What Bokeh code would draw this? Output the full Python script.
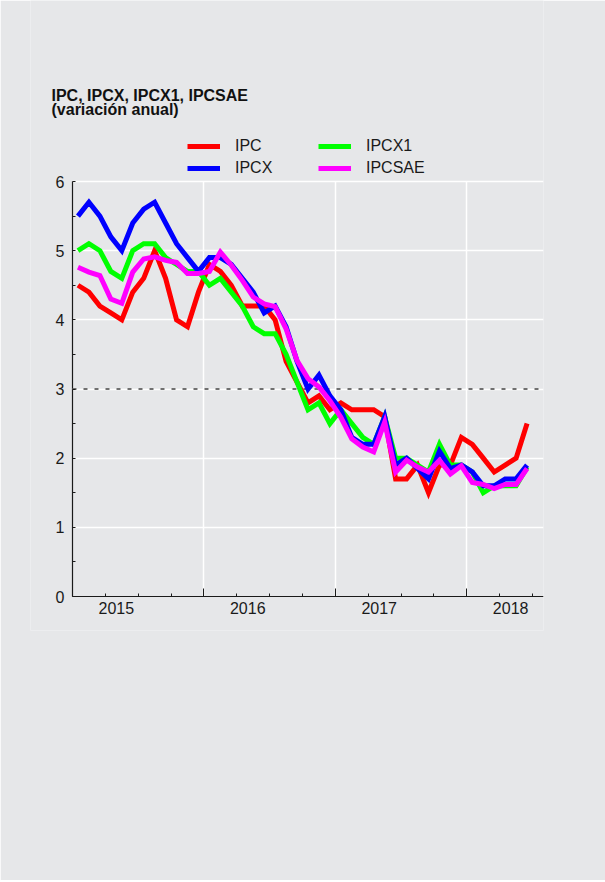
from bokeh.plotting import figure
from bokeh.models import (Range1d, FixedTicker, LinearAxis, Label, Legend, LegendItem)
from bokeh.embed import file_html
from bokeh.resources import INLINE

# ---------------- data (monthly, Jan 2015 .. Jun 2018) ----------------
months = list(range(42))
ipc = [4.5, 4.4, 4.2, 4.1, 4.0, 4.4, 4.6, 5.0, 4.6, 4.0, 3.9, 4.4,
       4.8, 4.7, 4.5, 4.2, 4.2, 4.2, 4.0, 3.4, 3.1, 2.8, 2.9, 2.7,
       2.8, 2.7, 2.7, 2.7, 2.6, 1.7, 1.7, 1.9, 1.5, 1.9, 1.9, 2.3,
       2.2, 2.0, 1.8, 1.9, 2.0, 2.5]
ipcx = [5.5, 5.7, 5.5, 5.2, 5.0, 5.4, 5.6, 5.7, 5.4, 5.1, 4.9, 4.7,
        4.9, 4.9, 4.8, 4.6, 4.4, 4.1, 4.2, 3.9, 3.4, 3.0, 3.2, 2.9,
        2.7, 2.3, 2.2, 2.2, 2.6, 1.9, 2.0, 1.85, 1.7, 2.1, 1.85, 1.9,
        1.8, 1.6, 1.6, 1.7, 1.7, 1.9]
ipcx1 = [5.0, 5.1, 5.0, 4.7, 4.6, 5.0, 5.1, 5.1, 4.9, 4.8, 4.7, 4.7,
         4.5, 4.6, 4.4, 4.2, 3.9, 3.8, 3.8, 3.5, 3.1, 2.7, 2.8, 2.5,
         2.7, 2.5, 2.3, 2.2, 2.6, 2.0, 2.0, 1.9, 1.8, 2.2, 1.9, 1.9,
         1.8, 1.5, 1.6, 1.6, 1.6, 1.87]
ipcsae = [4.76, 4.69, 4.64, 4.30, 4.24, 4.69, 4.88, 4.91, 4.86, 4.83, 4.67, 4.67,
          4.7, 4.98, 4.79, 4.57, 4.33, 4.23, 4.19, 3.87, 3.41, 3.15, 3.03, 2.83,
          2.59, 2.28, 2.16, 2.09, 2.52, 1.80, 1.97, 1.87, 1.80, 1.97, 1.77, 1.89,
          1.65, 1.62, 1.56, 1.62, 1.62, 1.85]
years = ["2015", "2016", "2017", "2018"]
series_names = ["IPC", "IPCX", "IPCX1", "IPCSAE"]
title_lines = ["IPC, IPCX, IPCX1, IPCSAE", "(variación anual)"]
y_ticks = [0, 1, 2, 3, 4, 5, 6]
target_line = 3

# ---------------- layout constants ----------------
FONT = "Liberation Sans"
BG = "#e6e7e9"
INK = "#1a1a1a"
colors = ["#ff0000", "#0000ff", "#00ff00", "#ff00ff"]

W, H = 605, 880
LEFT, RIGHT, BOTTOM = 30, 62, 250          # frame spans title/legend/labels too
AXIS_X = 72                                # pixel column of the y axis
AXIS_Y = 596                               # pixel row of the x axis
X_END = 43                                 # months shown (Jan 2015 .. Jul 2018)
Y_MIN, Y_MAX = 0, 6
PLOT_H = 415                               # pixel height of the 0..6 band

frame_h = H - BOTTOM
px_per_month = (W - RIGHT - AXIS_X) / X_END
px_per_unit = PLOT_H / Y_MAX
x_start = -(AXIS_X - LEFT) / px_per_month
y_start = -(frame_h - AXIS_Y) / px_per_unit
y_end = AXIS_Y / px_per_unit

x = [m + 0.5 for m in months]                       # mid-month positions
year_ticks = [12 * k for k in range(len(years))]
quarter_ticks = [3 * q for q in range(15) if q % 4 != 0]
label_ticks = [12 * k + 4 for k in range(len(years))]
y_minor = [t + 0.5 for t in y_ticks[:-1]]

p = figure(width=W, height=H, x_range=Range1d(x_start, X_END), y_range=Range1d(y_start, y_end),
           output_backend="svg", toolbar_location=None,
           min_border_left=LEFT, min_border_right=RIGHT, min_border_top=0,
           min_border_bottom=BOTTOM)
p.background_fill_color = BG
p.border_fill_color = BG
p.outline_line_color = None

# grids, limited to the data band
p.xgrid.ticker = FixedTicker(ticks=year_ticks[1:])
p.xgrid.cross_bounds = (Y_MIN, Y_MAX)
p.xgrid.grid_line_color = "white"
p.xgrid.grid_line_width = 1.5
p.ygrid.ticker = FixedTicker(ticks=y_ticks[1:])
p.ygrid.cross_bounds = (0, X_END)
p.ygrid.grid_line_color = "white"
p.ygrid.grid_line_width = 1.5

# axis lines
p.segment(x0=[0, 0], y0=[Y_MIN, Y_MIN], x1=[0, X_END], y1=[Y_MAX, Y_MIN],
          line_color=INK, line_width=1.2)

# x axis at y = 0: long year ticks, short quarter ticks (empty labels)
xa = p.xaxis[0]
xa.fixed_location = 0
xa.bounds = (0, X_END)
xa.ticker = FixedTicker(ticks=year_ticks, minor_ticks=quarter_ticks)
xa.major_label_overrides = {t: "" for t in year_ticks}
xa.major_tick_in = 8
xa.major_tick_out = 0
xa.minor_tick_in = 3
xa.minor_tick_out = 0
xa.major_label_standoff = 0
xa.major_label_text_font_size = "1px"
xa.axis_line_color = None
xa.major_tick_line_color = INK
xa.minor_tick_line_color = INK

# x axis at y = 0: year labels only
xb = LinearAxis(ticker=FixedTicker(ticks=label_ticks, minor_ticks=[]),
                major_label_overrides={t: y for t, y in zip(label_ticks, years)})
xb.fixed_location = 0
xb.axis_line_color = None
xb.major_tick_line_color = None
xb.minor_tick_line_color = None
xb.major_tick_in = 0
xb.major_tick_out = 0
xb.major_label_standoff = 5
xb.major_label_text_font = FONT
xb.major_label_text_font_size = "16px"
xb.major_label_text_color = INK
p.add_layout(xb, "below")

# y axis at x = 0, only over 0..6
ya = p.yaxis[0]
ya.fixed_location = 0
ya.bounds = (Y_MIN, Y_MAX)
ya.ticker = FixedTicker(ticks=y_ticks, minor_ticks=y_minor)
ya.major_tick_in = 3
ya.major_tick_out = 0
ya.minor_tick_in = 3
ya.minor_tick_out = 0
ya.major_label_standoff = 8
ya.major_label_text_font = FONT
ya.major_label_text_font_size = "16px"
ya.major_label_text_color = INK
ya.axis_line_color = None
ya.major_tick_line_color = INK
ya.minor_tick_line_color = INK

# target dashed line across the data band
p.segment(x0=[0], y0=[target_line], x1=[X_END], y1=[target_line],
          line_color="#707070", line_width=2, line_dash="4 7")

# series (drawing order: IPC, IPCX1, IPCX, IPCSAE)
r_ipc = p.line(x, ipc, line_color=colors[0], line_width=5, line_join="miter")
r_ipcx1 = p.line(x, ipcx1, line_color=colors[2], line_width=5, line_join="miter")
r_ipcx = p.line(x, ipcx, line_color=colors[1], line_width=5, line_join="miter")
r_ipcsae = p.line(x, ipcsae, line_color=colors[3], line_width=5, line_join="miter")

def make_legend(items, loc):
    lg = Legend(items=items, location=loc)
    lg.background_fill_alpha = 0
    lg.border_line_color = None
    lg.padding = 0
    lg.margin = 0
    lg.spacing = 2
    lg.glyph_width = 33
    lg.glyph_height = 20
    lg.label_height = 20
    lg.label_standoff = 15
    lg.label_text_font = FONT
    lg.label_text_font_size = "16px"
    lg.label_text_color = INK
    return lg

legend_bottom = frame_h - 178
leg1 = make_legend([LegendItem(label=series_names[0], renderers=[r_ipc]),
                    LegendItem(label=series_names[1], renderers=[r_ipcx])],
                   (187 - LEFT, legend_bottom))
leg2 = make_legend([LegendItem(label=series_names[2], renderers=[r_ipcx1]),
                    LegendItem(label=series_names[3], renderers=[r_ipcsae])],
                   (318 - LEFT, legend_bottom))
p.add_layout(leg1)
p.add_layout(leg2)

# title (two lines)
for i, line in enumerate(title_lines):
    p.add_layout(Label(x=51 - LEFT, y=frame_h - 95 - 13.5 * i, x_units="screen", y_units="screen",
                       text=line, text_font=FONT, text_font_size="16px",
                       text_font_style="bold", text_color="#111111",
                       text_baseline="alphabetic", text_align="left"))

open("out.html", "w").write(file_html(p, INLINE))
